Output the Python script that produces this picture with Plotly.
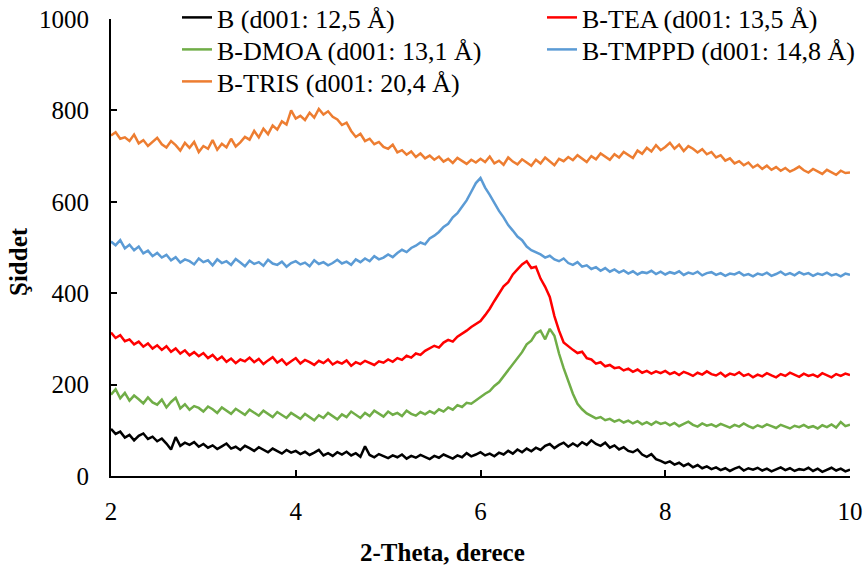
import plotly.graph_objects as go

# 2-theta grid (degrees), 0.05 step from 2 to 10
two_theta = [round(2 + 0.05 * i, 2) for i in range(161)]

b_tris = [
    745, 752, 738, 741, 733, 747, 728, 735, 722, 731,
    740, 726, 719, 733, 724, 712, 729, 718, 731, 709,
    722, 716, 735, 714, 727, 719, 738, 721, 730, 742,
    736, 755, 741, 760, 748, 767, 758, 776, 769, 800,
    782, 788, 779, 795, 784, 803, 791, 798, 786, 780,
    768, 773, 755, 742, 749, 733, 738, 726, 731, 720,
    716, 725, 708, 713, 703, 710, 698, 706, 695, 701,
    692, 699, 688, 694, 685, 696, 689, 683, 692, 686,
    694, 687, 699, 684, 690, 681, 697, 688, 682, 693,
    686, 679, 692, 684, 697, 688, 680, 694, 689, 698,
    691, 702, 695, 687, 700, 693, 706, 698, 692, 704,
    697, 709, 703, 696, 712, 705, 718, 710, 724, 713,
    720, 729, 716, 725, 711, 722, 716, 708, 715, 704,
    709, 697, 702, 690, 695, 684, 689, 680, 686, 675,
    681, 672, 679, 670, 676, 668, 674, 666, 671, 677,
    669, 664, 672, 667, 661, 670, 665, 659, 668, 663,
    664,
]

b_tmppd = [
    513, 505, 516, 498, 506, 494, 502, 487, 493, 481,
    488, 478, 484, 472, 479, 467, 474, 470, 463, 476,
    468, 472, 461, 474, 466, 470, 462, 475, 467, 459,
    471, 464, 468, 460, 473, 465, 462, 469, 458, 466,
    470, 463, 467, 459, 472, 464, 468, 461, 466, 473,
    465, 469, 462, 474, 468, 476, 470, 481, 474, 478,
    485, 479, 488, 495, 490, 499, 504, 511, 507, 520,
    526, 534, 545, 552, 566, 575, 589, 603, 622, 641,
    652, 631, 615, 596, 580, 566, 549, 537, 524, 516,
    502, 494, 490, 485, 478, 482, 474, 470, 476, 466,
    462, 468, 458, 461, 453, 457, 449, 455, 447, 452,
    445, 450, 443, 448, 441, 446, 444, 449, 442, 447,
    441, 446, 443, 448, 440, 445, 442, 447, 439, 444,
    446, 440, 444, 438, 443, 441, 446, 439, 442, 437,
    443, 440, 445, 438, 442, 447, 440, 444, 439, 446,
    441, 444, 438, 443, 440, 445, 439, 442, 437, 443,
    440,
]

b_tea = [
    314, 302, 308, 295, 299, 288, 294, 283, 290, 279,
    286, 276, 284, 272, 279, 268, 275, 264, 271, 262,
    269, 258, 265, 254, 261, 250, 257, 247, 255, 251,
    259, 249, 256, 245, 253, 260, 248, 255, 244, 252,
    258, 246, 254, 249, 243, 252, 247, 255, 244, 250,
    246, 253, 241, 249, 245, 252, 247, 243, 251, 248,
    255, 250, 258, 254, 263, 259, 268, 265, 274, 279,
    285, 281, 292, 298, 294, 305, 311, 318, 326, 333,
    339, 352, 366, 383, 398, 415, 424, 441, 452, 463,
    470, 455, 458, 432, 414, 392, 350, 318, 292, 283,
    276, 269, 272, 258, 255, 246, 249, 240, 243, 236,
    238, 231, 235, 228, 233, 226, 230, 224, 229, 225,
    230, 223, 227, 221, 228, 224, 219, 226, 222, 229,
    223, 220, 226, 218, 224, 221, 227, 219, 223, 216,
    222, 218, 225, 220, 216, 223, 219, 226, 221, 217,
    224, 219, 222, 217, 225, 220, 216, 223, 219, 224,
    221,
]

b_dmoa = [
    178, 190, 170, 182, 165, 176, 168, 159, 172, 161,
    156, 167, 150, 162, 171, 148, 157, 145, 153, 149,
    141, 152, 146, 138, 150, 143, 136, 147, 140, 134,
    145, 138, 132, 143, 136, 129, 140, 133, 127, 138,
    131, 125, 136, 128, 122, 133, 127, 138, 130, 124,
    135, 129, 141, 133, 127, 138, 131, 143, 136, 130,
    141, 134, 138, 131, 143, 136, 132, 140, 135, 142,
    137, 146, 141, 150, 145, 155, 151, 160, 158, 166,
    172, 180, 186, 197, 205, 218, 231, 246, 258, 271,
    288, 296, 312, 318, 299, 322, 307, 268, 236, 208,
    180, 158, 146, 137, 131, 126, 129, 122, 125, 119,
    123, 117, 121, 115, 120, 113, 118, 112, 119, 114,
    117, 111, 116, 109, 114, 119, 112, 108, 115, 110,
    113, 108, 114, 110, 106, 112, 108, 115, 109, 105,
    111, 107, 113, 109, 105, 112, 108, 104, 110, 107,
    112, 106, 109, 104, 111, 107, 113, 106, 118, 109,
    112,
]

b_raw = [
    103, 92, 97, 84, 90, 78, 88, 93, 81, 86,
    76, 82, 71, 58, 85, 66, 73, 68, 74, 64,
    70, 62, 67, 59, 65, 71, 60, 64, 57, 66,
    61, 55, 63, 58, 52, 60, 54, 49, 57, 51,
    55, 48, 53, 46, 51, 57, 45, 50, 44, 52,
    47, 53, 45, 50, 42, 65, 46, 41, 48, 43,
    39, 45, 41, 47, 38, 44, 40, 46, 42, 37,
    44, 40, 47, 42, 38, 45, 41, 50, 43, 47,
    52, 45, 49, 43, 51, 47, 55, 49, 58, 52,
    60, 54, 62, 57, 66, 70, 61, 68, 73, 64,
    71, 65, 74, 68, 78, 70, 66, 73, 62, 67,
    58, 63, 55, 52, 58, 47, 42, 48, 37, 33,
    28, 32, 25, 29, 22, 27, 19, 24, 17, 21,
    15, 19, 13, 17, 11, 16, 20, 12, 17, 14,
    18, 12, 16, 10, 15, 19, 13, 17, 11, 15,
    13, 18, 11, 16, 9, 14, 18, 12, 16, 10,
    14,
]

series_names = [
    "B (d001: 12,5 Å)",
    "B-TEA (d001: 13,5 Å)",
    "B-DMOA (d001: 13,1 Å)",
    "B-TMPPD (d001: 14,8 Å)",
    "B-TRIS (d001: 20,4 Å)",
]
series_values = [b_raw, b_tea, b_dmoa, b_tmppd, b_tris]
series_colors = ["#000000", "#FF0000", "#70AD47", "#5B9BD5", "#ED7D31"]

x_ticks = [2, 4, 6, 8, 10]
y_ticks = [0, 200, 400, 600, 800, 1000]

SERIF = "'Liberation Serif', 'Times New Roman', serif"

# plot-area geometry in pixels
L, R, T, B = 111, 850, 19, 476
W, H = 865, 568
PW, PH = R - L, B - T

# legend entries laid out in two columns, one small legend box per entry
# (left edge of entry, vertical centre of its row), in pixels
legend_slots = [(177, 17), (542, 17), (177, 49), (542, 49), (177, 81)]
LEGEND_ROW_OFFSET = 23  # distance from legend box top to entry centre

fig = go.Figure()
# draw back-to-front so the lower patterns sit on top
for i in reversed(range(len(series_names))):
    lg = "legend" if i == 0 else f"legend{i + 1}"
    fig.add_trace(go.Scatter(
        x=two_theta, y=series_values[i], mode="lines", name=series_names[i],
        line=dict(color=series_colors[i], width=2.5),
        legend=lg,
    ))

legend_layout = {}
for i, (lx, ly) in enumerate(legend_slots):
    key = "legend" if i == 0 else f"legend{i + 1}"
    legend_layout[key] = dict(
        x=(lx - L) / PW, y=(B - (ly - LEGEND_ROW_OFFSET)) / PH,
        xanchor="left", yanchor="top",
        font=dict(family=SERIF, size=26, color="#000000"),
        bgcolor="rgba(0,0,0,0)", borderwidth=0, itemwidth=30,
    )

fig.update_layout(
    width=W, height=H,
    margin=dict(l=L, r=W - R, t=T, b=H - B, autoexpand=False),
    paper_bgcolor="white", plot_bgcolor="white",
    showlegend=True,
    xaxis=dict(
        range=[2, 10], tickvals=x_ticks, ticktext=[str(v) for v in x_ticks],
        showgrid=False, zeroline=False,
        showline=True, linecolor="#000000", linewidth=2,
        ticks="inside", ticklen=6, tickwidth=1.5, tickcolor="#000000",
        tickfont=dict(family=SERIF, size=25, color="#000000"),
        ticklabelstandoff=12,
    ),
    yaxis=dict(
        range=[0, 1000], tickvals=y_ticks, ticktext=[str(v) for v in y_ticks],
        showgrid=False, zeroline=False,
        showline=True, linecolor="#000000", linewidth=2,
        ticks="inside", ticklen=6, tickwidth=1.5, tickcolor="#000000",
        tickfont=dict(family=SERIF, size=25, color="#000000"),
        ticklabelstandoff=15,
    ),
    annotations=[
        dict(text="<b>2-Theta, derece</b>", xref="paper", yref="paper",
             x=(442 - L) / PW, y=(B - 552) / PH, xanchor="center", yanchor="middle",
             showarrow=False, font=dict(family=SERIF, size=25, color="#000000")),
        dict(text="<b>Şiddet</b>", xref="paper", yref="paper",
             x=(18 - L) / PW, y=(B - 262) / PH, xanchor="center", yanchor="middle",
             textangle=-90, showarrow=False,
             font=dict(family=SERIF, size=25, color="#000000")),
    ],
    **legend_layout,
)

fig.write_html("out.html")
